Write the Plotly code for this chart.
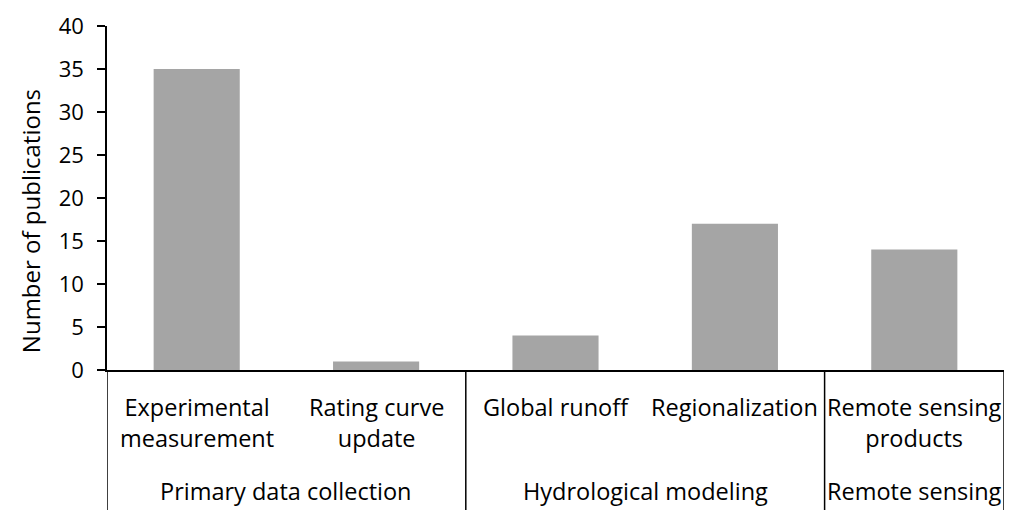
import plotly.graph_objects as go

categories = ["Experimental<br>measurement", "Rating curve<br>update", "Global runoff",
              "Regionalization", "Remote sensing<br>products"]
values = [35, 1, 4, 17, 14]
groups = ["Primary data collection", "Hydrological modeling", "Remote sensing"]
group_spans = [(0, 1), (2, 3), (4, 4)]
y_title = "Number of publications"

FONT = "Open Sans"
LBL = 23.5
fig = go.Figure(go.Bar(x=list(range(len(categories))), y=values, marker_color="#A5A5A5",
                       marker_line_width=0, width=0.48))

W, H = 1014, 510
L, R, T, B = 107, 10, 21, 140
ph = H - T - B
pw = W - L - R

shapes = []
bounds = [-0.5] + [s[1] + 0.5 for s in group_spans]
for b in bounds:
    shapes.append(dict(type="line", xref="x", yref="paper", x0=b, x1=b, y0=0, y1=-(B + 5) / ph,
                       line=dict(color="black", width=1.5)))

annotations = []
for i, c in enumerate(categories):
    annotations.append(dict(x=i, y=-(389 - 370) / ph, xref="x", yref="paper", text=c, showarrow=False,
                            font=dict(family=FONT, size=LBL, color="black"), yanchor="top"))
for g, (a, b) in zip(groups, group_spans):
    annotations.append(dict(x=(a + b) / 2, y=-(493 - 370) / ph, xref="x", yref="paper", text=g, showarrow=False,
                            font=dict(family=FONT, size=LBL, color="black"), yanchor="middle"))
annotations.append(dict(x=-(L - 30) / pw, y=(370 - 219) / ph, xref="paper", yref="paper", text=y_title,
                        showarrow=False, textangle=-90, xanchor="center", yanchor="middle",
                        font=dict(family=FONT, size=24, color="black")))

fig.update_layout(
    width=W, height=H, margin=dict(l=L, r=R, t=T, b=B),
    paper_bgcolor="white", plot_bgcolor="white", showlegend=False,
    font=dict(family=FONT, size=LBL, color="black"),
    shapes=shapes, annotations=annotations,
    xaxis=dict(range=[-0.5, 4.5], showticklabels=False, ticks="", showgrid=False, zeroline=False,
               showline=True, linecolor="black", linewidth=1.5),
    yaxis=dict(range=[0, 40], dtick=5, ticks="outside", ticklen=8, tickcolor="black", tickwidth=1.5,
               showgrid=False, zeroline=False, showline=True, linecolor="black", linewidth=1.5,
               ticklabelstandoff=9, tickfont=dict(family=FONT, size=22)),
)
fig.write_html("out.html", config={"displayModeBar": False},
               post_script="document.body.style.margin='0px';document.body.style.overflow='hidden';")
